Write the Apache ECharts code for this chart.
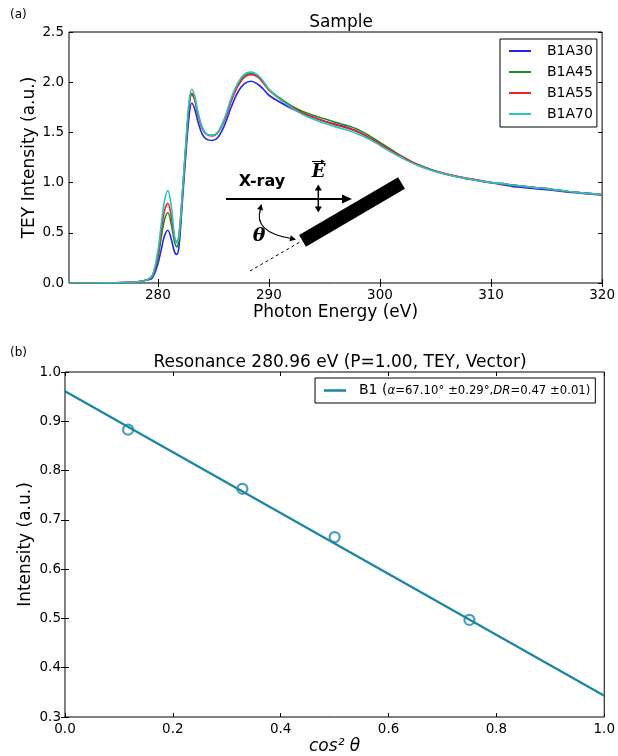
<!DOCTYPE html>
<html><head><meta charset="utf-8">
<script src="https://cdn.jsdelivr.net/npm/echarts@6/dist/echarts.min.js"></script>
<style>html,body{margin:0;padding:0;background:#fff}#chart{width:618px;height:756px}</style>
</head><body><div id="chart"></div>
<script>
// ---------- Panel (a): TEY spectra ----------
const energy = [272, 274, 276, 277, 278, 278.5, 279, 279.5, 280, 280.3, 280.6, 280.9, 281.2, 281.5, 281.7, 281.9, 282.2, 282.5, 282.8, 283.05, 283.3, 283.6, 284.0, 284.4, 284.9, 285.4, 286, 286.6, 287.2, 287.8, 288.4, 289, 289.5, 290, 291, 292, 293, 294, 295, 296, 297, 298, 299, 300, 301, 302, 303, 304, 305, 306, 307, 308, 309, 310, 311, 312, 313, 314, 315, 316, 317, 318, 319, 320];
const b1a30 = [0, 0, 0.002, 0.004, 0.01, 0.018, 0.03, 0.05, 0.19, 0.33, 0.47, 0.525, 0.44, 0.31, 0.285, 0.36, 0.80, 1.25, 1.65, 1.79, 1.74, 1.61, 1.48, 1.43, 1.42, 1.45, 1.57, 1.75, 1.90, 1.985, 2.01, 1.98, 1.93, 1.87, 1.80, 1.74, 1.69, 1.65, 1.61, 1.58, 1.55, 1.51, 1.45, 1.385, 1.315, 1.25, 1.195, 1.15, 1.11, 1.08, 1.055, 1.035, 1.015, 1.00, 0.98, 0.96, 0.95, 0.94, 0.93, 0.918, 0.905, 0.895, 0.885, 0.875];
const b1a45 = [0, 0, 0.002, 0.004, 0.01, 0.018, 0.03, 0.07, 0.25, 0.45, 0.63, 0.70, 0.59, 0.41, 0.36, 0.43, 0.86, 1.32, 1.74, 1.88, 1.83, 1.68, 1.54, 1.48, 1.47, 1.50, 1.63, 1.82, 1.97, 2.06, 2.09, 2.06, 2.00, 1.93, 1.84, 1.765, 1.71, 1.67, 1.635, 1.60, 1.57, 1.53, 1.47, 1.40, 1.33, 1.26, 1.20, 1.155, 1.115, 1.085, 1.06, 1.04, 1.02, 1.00, 0.99, 0.975, 0.962, 0.95, 0.94, 0.925, 0.912, 0.90, 0.89, 0.88];
const b1a55 = [0, 0, 0.002, 0.004, 0.01, 0.018, 0.03, 0.07, 0.28, 0.52, 0.72, 0.795, 0.67, 0.45, 0.41, 0.48, 0.88, 1.34, 1.76, 1.89, 1.84, 1.69, 1.54, 1.48, 1.465, 1.50, 1.62, 1.81, 1.96, 2.05, 2.075, 2.05, 1.99, 1.92, 1.83, 1.755, 1.695, 1.65, 1.61, 1.575, 1.545, 1.505, 1.45, 1.385, 1.32, 1.255, 1.20, 1.15, 1.115, 1.085, 1.06, 1.04, 1.02, 1.00, 0.99, 0.975, 0.962, 0.95, 0.94, 0.925, 0.912, 0.90, 0.89, 0.88];
const b1a70 = [0, 0, 0.002, 0.004, 0.01, 0.018, 0.03, 0.07, 0.32, 0.58, 0.82, 0.92, 0.77, 0.47, 0.40, 0.47, 0.88, 1.36, 1.80, 1.93, 1.87, 1.71, 1.55, 1.48, 1.47, 1.50, 1.64, 1.84, 1.99, 2.08, 2.10, 2.07, 2.01, 1.93, 1.83, 1.75, 1.68, 1.63, 1.59, 1.555, 1.525, 1.485, 1.435, 1.37, 1.305, 1.245, 1.19, 1.145, 1.11, 1.08, 1.055, 1.035, 1.015, 1.00, 0.99, 0.975, 0.962, 0.95, 0.94, 0.925, 0.912, 0.90, 0.89, 0.88];
const seriesNamesA = ['B1A30', 'B1A45', 'B1A55', 'B1A70'];
const xTicksA = [280, 290, 300, 310, 320];

// ---------- Panel (b): resonance intensity vs cos^2 theta ----------
const cos2Theta = [0.117, 0.329, 0.5, 0.75];
const intensity = [0.883, 0.763, 0.665, 0.497];
const fitX = [0.0, 1.0];
const fitY = [0.961, 0.343];

const FONT = 'DejaVu Sans';
const colorsA = ['#2424ee', '#1e8c1e', '#ee2424', '#26c4c4'];
const TEAL = '#1b85a5';

function head(tx, ty, dx, dy, L, W) {
  const n = Math.hypot(dx, dy); dx /= n; dy /= n;
  const bx = tx - dx * L, by = ty - dy * L;
  return {type: 'polygon', z: 100, shape: {points: [[tx, ty], [bx - dy * W, by + dx * W], [bx + dy * W, by - dx * W]]}, style: {fill: '#000'}};
}

const lblStyle = {color: '#000', fontSize: 13.5, fontFamily: FONT};
const nameStyle = {color: '#000', fontSize: 17, fontFamily: FONT};

const chart = echarts.init(document.getElementById('chart'));
const option = {
  animation: false,
  textStyle: {fontFamily: FONT},
  title: [
    {text: 'Sample', left: 336, top: 9, textAlign: 'center', textStyle: {fontSize: 17, fontWeight: 'normal', color: '#000', fontFamily: FONT}},
    {text: 'Resonance 280.96 eV (P=1.00, TEY, Vector)', left: 335, top: 349, textAlign: 'center', textStyle: {fontSize: 17, fontWeight: 'normal', color: '#000', fontFamily: FONT}}
  ],
  grid: [
    {left: 69, right: 15, top: 32, bottom: 473, show: true, borderColor: '#000', borderWidth: 1, backgroundColor: 'transparent'},
    {left: 65, right: 13, top: 372, bottom: 39, show: true, borderColor: '#000', borderWidth: 1, backgroundColor: 'transparent'}
  ],
  xAxis: [
    {gridIndex: 0, type: 'value', min: 272, max: 320, axisLine: {show: false}, splitLine: {show: false},
     axisTick: {inside: true, length: 4, customValues: xTicksA, lineStyle: {color: '#000'}},
     axisLabel: {customValues: xTicksA, margin: 5, ...lblStyle},
     name: 'Photon Energy (eV)', nameLocation: 'middle', nameGap: 21, nameMoveOverlap: false, nameTextStyle: nameStyle},
    {gridIndex: 0, type: 'value', position: 'top', min: 272, max: 320, axisLine: {show: false}, splitLine: {show: false},
     axisTick: {inside: true, length: 4, customValues: xTicksA, lineStyle: {color: '#000'}}, axisLabel: {show: false}},
    {gridIndex: 1, type: 'value', min: 0, max: 1, interval: 0.2, axisLine: {show: false}, splitLine: {show: false},
     axisTick: {inside: true, length: 4, lineStyle: {color: '#000'}},
     axisLabel: {margin: 5, formatter: v => v.toFixed(1), ...lblStyle},
     name: 'cos² θ', nameLocation: 'middle', nameGap: 21, nameMoveOverlap: false, nameTextStyle: {...nameStyle, fontStyle: 'italic'}},
    {gridIndex: 1, type: 'value', position: 'top', min: 0, max: 1, interval: 0.2, axisLine: {show: false}, splitLine: {show: false},
     axisTick: {inside: true, length: 4, lineStyle: {color: '#000'}}, axisLabel: {show: false}}
  ],
  yAxis: [
    {gridIndex: 0, type: 'value', min: 0, max: 2.5, interval: 0.5, axisLine: {show: false}, splitLine: {show: false},
     axisTick: {inside: true, length: 4, lineStyle: {color: '#000'}},
     axisLabel: {margin: 5, formatter: v => v.toFixed(1), ...lblStyle},
     name: 'TEY Intensity (a.u.)', nameLocation: 'middle', nameGap: 31, nameMoveOverlap: false, nameTextStyle: nameStyle},
    {gridIndex: 0, type: 'value', position: 'right', min: 0, max: 2.5, interval: 0.5, axisLine: {show: false}, splitLine: {show: false},
     axisTick: {inside: true, length: 4, lineStyle: {color: '#000'}}, axisLabel: {show: false}},
    {gridIndex: 1, type: 'value', min: 0.3, max: 1.0, interval: 0.1, axisLine: {show: false}, splitLine: {show: false},
     axisTick: {inside: true, length: 4, lineStyle: {color: '#000'}},
     axisLabel: {margin: 4, formatter: v => v.toFixed(1), ...lblStyle},
     name: 'Intensity (a.u.)', nameLocation: 'middle', nameGap: 31, nameMoveOverlap: false, nameTextStyle: nameStyle},
    {gridIndex: 1, type: 'value', position: 'right', min: 0.3, max: 1.0, interval: 0.1, axisLine: {show: false}, splitLine: {show: false},
     axisTick: {inside: true, length: 4, lineStyle: {color: '#000'}}, axisLabel: {show: false}}
  ],
  legend: [
    {data: seriesNamesA, orient: 'vertical', left: 500, top: 39, itemWidth: 22, itemHeight: 2, itemGap: 7, icon: 'rect',
     padding: [5, 4, 6, 9], borderColor: '#000', borderWidth: 1, borderRadius: 0, backgroundColor: '#fff',
     textStyle: {fontSize: 14, color: '#000', fontFamily: FONT, lineHeight: 14, padding: [0, 0, 0, 11]}},
    {data: ['B1'], orient: 'vertical', left: 315, top: 378, itemWidth: 22, itemHeight: 2.5, icon: 'rect',
     padding: [5, 5, 5, 9], borderColor: '#000', borderWidth: 1, borderRadius: 0, backgroundColor: '#fff',
     formatter: () => '{b|B1 (}{i|α}{m|=67.10° ±0.29°,}{i|DR}{m|=0.47 ±0.01)}',
     textStyle: {color: '#000', fontFamily: FONT, lineHeight: 15, padding: [0, 0, 0, 8],
       rich: {b: {fontSize: 14, fontFamily: FONT, color: '#000'}, i: {fontSize: 11.7, fontStyle: 'italic', fontFamily: FONT, color: '#000'}, m: {fontSize: 11.7, fontFamily: FONT, color: '#000'}}}}
  ],
  series: [
    ...[b1a30, b1a45, b1a55, b1a70].map((arr, k) => ({
      name: seriesNamesA[k], type: 'line', xAxisIndex: 0, yAxisIndex: 0,
      data: energy.map((e, i) => [e, arr[i]]), showSymbol: false, symbol: 'none',
      smooth: 0.35, color: colorsA[k], lineStyle: {width: 1.6, color: colorsA[k]}
    })),
    {name: 'B1', type: 'line', xAxisIndex: 2, yAxisIndex: 2, data: fitX.map((x, i) => [x, fitY[i]]),
     showSymbol: false, symbol: 'none', color: TEAL, lineStyle: {width: 2.2, color: TEAL}},
    {name: 'B1 data', type: 'scatter', xAxisIndex: 2, yAxisIndex: 2, data: cos2Theta.map((x, i) => [x, intensity[i]]),
     symbol: 'circle', symbolSize: 10, z: 5, itemStyle: {color: 'rgba(0,0,0,0)', borderColor: TEAL, borderWidth: 2.2}}
  ],
  graphic: [
    {type: 'text', x: 10, y: 15, z: 100, style: {text: '(a)', font: '12px "DejaVu Sans"', fill: '#000', verticalAlign: 'middle'}},
    {type: 'text', x: 10, y: 353, z: 100, style: {text: '(b)', font: '12px "DejaVu Sans"', fill: '#000', verticalAlign: 'middle'}},
    // inset diagram
    {type: 'line', z: 100, shape: {x1: 226, y1: 199, x2: 343, y2: 199}, style: {stroke: '#000', lineWidth: 2}},
    head(352, 199, 1, 0, 10, 4.5),
    {type: 'text', z: 100, x: 262, y: 182, style: {text: 'X-ray', font: 'bold 16px "DejaVu Sans"', fill: '#000', align: 'center', verticalAlign: 'middle'}},
    {type: 'text', z: 100, x: 318.5, y: 172, style: {text: 'E', font: 'italic bold 18px "DejaVu Serif"', fill: '#000', align: 'center', verticalAlign: 'middle'}},
    {type: 'line', z: 100, shape: {x1: 312, y1: 161.5, x2: 322, y2: 161.5}, style: {stroke: '#000', lineWidth: 1}},
    head(325, 161.5, 1, 0, 4, 2),
    {type: 'line', z: 100, shape: {x1: 318.3, y1: 189, x2: 318.3, y2: 208}, style: {stroke: '#000', lineWidth: 1.5}},
    head(318.3, 184.5, 0, -1, 6, 3.5),
    head(318.3, 212.5, 0, 1, 6, 3.5),
    {type: 'line', z: 100, shape: {x1: 302.5, y1: 240.8, x2: 401.5, y2: 183}, style: {stroke: '#000', lineWidth: 13.5, lineCap: 'butt'}},
    {type: 'line', z: 100, shape: {x1: 250, y1: 271, x2: 300, y2: 242}, style: {stroke: '#000', lineWidth: 1, lineDash: [3, 3]}},
    {type: 'bezierCurve', z: 100, shape: {x1: 260.5, y1: 209, x2: 291, y2: 238.5, cpx1: 253, cpy1: 232}, style: {stroke: '#000', lineWidth: 1.2, fill: null}},
    head(261.5, 204, 0.25, -1, 6, 3),
    head(296, 239.5, 38, 8, 6, 3),
    {type: 'text', z: 100, x: 259, y: 236, style: {text: 'θ', font: 'italic bold 19px "DejaVu Serif"', fill: '#000', align: 'center', verticalAlign: 'middle'}}
  ]
};
chart.setOption(option);
</script>
</body></html>
